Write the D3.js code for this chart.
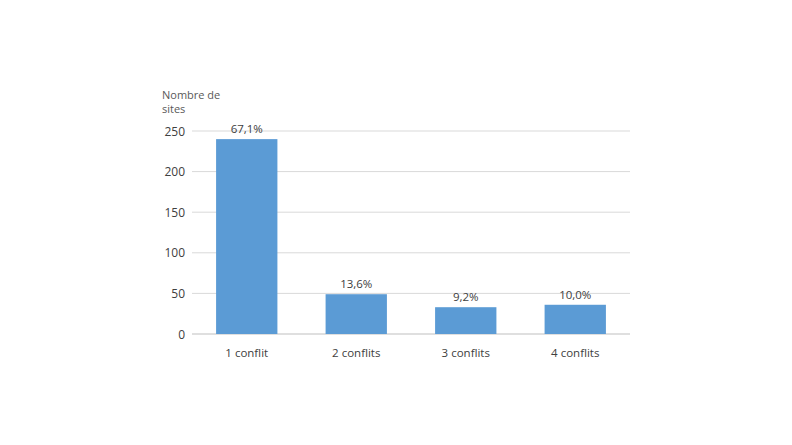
<!DOCTYPE html>
<html><head><meta charset="utf-8">
<script src="https://cdn.jsdelivr.net/npm/d3@7"></script>
<style>body{margin:0;background:#fff;font-family:"Open Sans",sans-serif;}</style>
</head><body><svg id="c" width="792" height="445"></svg>
<script>
const categories=["1 conflit","2 conflits","3 conflits","4 conflits"];
const values=[240,49,33,36];
const labels=["67,1%","13,6%","9,2%","10,0%"];
const ticks=[0,50,100,150,200,250];
const svg=d3.select("#c");
const x=d3.scaleBand().domain(categories).range([192,630]).paddingInner(0.44).paddingOuter(0.22);
const y=d3.scaleLinear().domain([0,250]).range([334,131]);
svg.selectAll(".g").data(ticks).join("line").attr("x1",192).attr("x2",630)
 .attr("y1",d=>y(d)).attr("y2",d=>y(d)).attr("stroke",d=>d===0?"#bfbfbf":"#d9d9d9").attr("stroke-width",1);
svg.selectAll(".t").data(ticks).join("text").attr("x",185).attr("y",d=>y(d)+4.5)
 .attr("text-anchor","end").attr("font-size",12).attr("fill","#404040").text(d=>d);
svg.selectAll("rect").data(values).join("rect").attr("x",(d,i)=>x(categories[i])).attr("width",x.bandwidth())
 .attr("y",d=>y(d)).attr("height",d=>y(0)-y(d)).attr("fill","#5b9bd5");
svg.selectAll(".l").data(values).join("text").attr("x",(d,i)=>x(categories[i])+x.bandwidth()/2).attr("y",d=>y(d)-6)
 .attr("text-anchor","middle").attr("font-size",11.5).attr("fill","#404040").text((d,i)=>labels[i]);
svg.selectAll(".c").data(categories).join("text").attr("x",d=>x(d)+x.bandwidth()/2).attr("y",357)
 .attr("text-anchor","middle").attr("font-size",11.5).attr("fill","#404040").text(d=>d);
svg.append("text").attr("x",162).attr("y",99).attr("font-size",11).attr("fill","#595959").text("Nombre de");
svg.append("text").attr("x",162).attr("y",113).attr("font-size",11).attr("fill","#595959").text("sites");
</script></body></html>
